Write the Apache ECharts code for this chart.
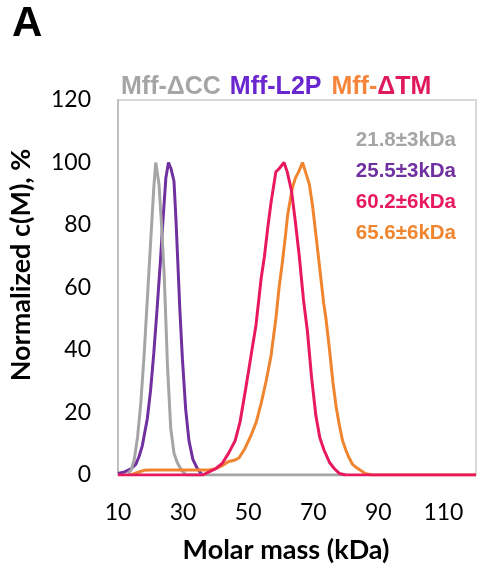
<!DOCTYPE html>
<html>
<head>
<meta charset="utf-8">
<script src="https://cdn.jsdelivr.net/npm/echarts@6/dist/echarts.min.js"></script>
<style>
  html, body { margin: 0; padding: 0; background: #fff; }
  #chart { width: 477px; height: 569px; }
</style>
</head>
<body>
<div id="chart"></div>
<script>
// 刻度
var xTicks = [10, 30, 50, 70, 90, 110]
var yTicks = [0, 20, 40, 60, 80, 100, 120]

// 四条分布曲线, [分子量 kDa, 归一化 c(M) %]
var namesCurve = ['21.8±3kDa', '25.5±3kDa', '60.2±6kDa', '65.6±6kDa']
var colorsCurve = ['#a5a5a5', '#7030a0', '#e8195c', '#f0852f']

var dataCC = [
  [13, 0.5], [14, 1.5], [15, 5], [16, 12], [17, 23], [18, 38], [19, 56], [20, 74],
  [21, 92], [21.6, 100], [22.6, 93], [23.5, 78], [24.2, 64], [25.2, 35], [26.2, 15],
  [27.2, 7], [28.2, 4], [29.5, 1.5], [31, 0], [80, 0]
]
var dataL2P = [
  [10, 0.5], [12, 1], [14, 2], [15.5, 3.5], [16.5, 6], [17.5, 9.5], [19, 18], [20, 27],
  [21, 39], [22, 53], [23, 68], [23.6, 78], [24.7, 95], [25.5, 100], [26.3, 98],
  [27.2, 94], [27.8, 82], [28.3, 70], [29, 53], [29.8, 37], [30.8, 21], [31.8, 11],
  [33, 5], [34.4, 2], [35.5, 0.5], [36, 0]
]
var dataTM1 = [
  [10, 0], [36, 0], [38, 1], [40, 2], [42, 3.7], [44, 7], [46, 11], [47.5, 17],
  [49.3, 28], [51, 39], [52.4, 48], [54, 63], [55, 70], [56, 79], [57, 87], [58.5, 97],
  [59.5, 98], [61, 100], [62, 97], [63.3, 91], [64.5, 81], [65.7, 70], [67, 56],
  [68.2, 46], [69.5, 31], [70.8, 19], [72, 12], [73.3, 8], [75, 4], [76.5, 2],
  [78, 0.5], [80, 0], [120, 0]
]
var dataTM2 = [
  [14, 0], [16, 0.8], [18, 1.5], [20, 1.6], [30, 1.6], [38, 1.6], [40, 2], [42, 3],
  [44, 4.3], [46, 4.8], [47.2, 5.5], [49, 8.5], [50.8, 12.5], [52.5, 17], [54, 23],
  [55.5, 30], [57, 38], [58.5, 50], [59.5, 60], [60.5, 68], [61.5, 77], [62.1, 83],
  [63.6, 92], [64.5, 95], [65.5, 97], [66.7, 100], [67.6, 97], [68.8, 93], [69.8, 86],
  [70.8, 77], [72, 66], [73.2, 55], [73.9, 50], [75, 40], [76, 30], [77, 22], [78, 16],
  [79, 11], [80, 8], [81, 5.5], [82, 3.5], [83.1, 2.5], [84.5, 1.5], [86, 0.5],
  [88, 0], [120, 0]
]

var chart = echarts.init(document.getElementById('chart'))

function lineSeries(i, data) {
  return {
    name: namesCurve[i],
    type: 'line',
    data: data,
    symbol: 'none',
    smooth: false,
    animation: false,
    lineStyle: { color: colorsCurve[i], width: 3 },
    itemStyle: { color: colorsCurve[i] }
  }
}

var titleFont = { fontSize: 25, fontWeight: 'bold', fontFamily: 'Liberation Sans' }

var option = {
  backgroundColor: '#fff',
  title: [{
    text: 'A',
    left: 7,
    top: -2,
    textStyle: { fontFamily: 'Liberation Sans', fontSize: 42, fontWeight: 'bold', color: '#000' }
  }, {
    text: '{g|Mff-ΔCC} {p|Mff-L2P} {o|Mff-}{r|ΔTM}',
    left: 116,
    top: 70,
    textStyle: {
      fontFamily: 'Liberation Sans',
      fontSize: 25,
      fontWeight: 'bold',
      rich: {
        g: Object.assign({ color: '#a5a5a5' }, titleFont),
        p: Object.assign({ color: '#6a26cf', padding: [0, 0, 0, 2] }, titleFont),
        o: Object.assign({ color: '#f5853a', padding: [0, 0, 0, 3] }, titleFont),
        r: Object.assign({ color: '#e0195c' }, titleFont)
      }
    }
  }],
  legend: {
    orient: 'vertical',
    right: 16,
    top: 125,
    icon: 'none',
    itemWidth: 0,
    itemHeight: 20,
    itemGap: 10,
    selectedMode: false,
    data: namesCurve.map(function (n, i) {
      return { name: n, textStyle: { color: colorsCurve[i] } }
    }),
    textStyle: { fontFamily: 'Liberation Sans', fontSize: 20.5, fontWeight: 'bold', lineHeight: 20 }
  },
  grid: {
    left: 118,
    right: 1,
    top: 100,
    bottom: 94,
    show: true,
    borderColor: '#d9d9d9',
    borderWidth: 2
  },
  xAxis: {
    type: 'value',
    min: 10,
    max: 120,
    interval: 20,
    name: 'Molar mass (kDa)',
    nameLocation: 'middle',
    nameGap: 62,
    nameTextStyle: {
      fontFamily: 'Lato', fontSize: 27, fontWeight: 'bold', color: '#000',
      padding: [0, 22, 0, 0]
    },
    axisLine: { show: true, lineStyle: { color: '#d9d9d9', width: 2 } },
    axisTick: { show: false },
    splitLine: { show: false },
    axisLabel: {
      margin: 26,
      showMaxLabel: false,
      fontFamily: 'Lato', fontSize: 23, color: '#000',
      formatter: function (v) { return xTicks.indexOf(v) >= 0 ? v : '' }
    }
  },
  yAxis: {
    type: 'value',
    min: 0,
    max: 120,
    interval: 20,
    name: 'Normalized c(M), %',
    nameLocation: 'middle',
    nameGap: 83,
    nameTextStyle: {
      fontFamily: 'Lato', fontSize: 27, fontWeight: 'bold', color: '#000',
      padding: [0, 0, 0, 45]
    },
    axisLine: { show: true, lineStyle: { color: '#bfbfbf', width: 2 } },
    axisTick: { show: false },
    splitLine: { show: false },
    axisLabel: {
      margin: 27,
      fontFamily: 'Lato', fontSize: 23, color: '#000',
      formatter: function (v) { return yTicks.indexOf(v) >= 0 ? v : '' }
    }
  },
  series: [
    lineSeries(1, dataL2P),
    lineSeries(0, dataCC),
    lineSeries(3, dataTM2),
    lineSeries(2, dataTM1)
  ]
}

chart.setOption(option)
</script>
</body>
</html>
